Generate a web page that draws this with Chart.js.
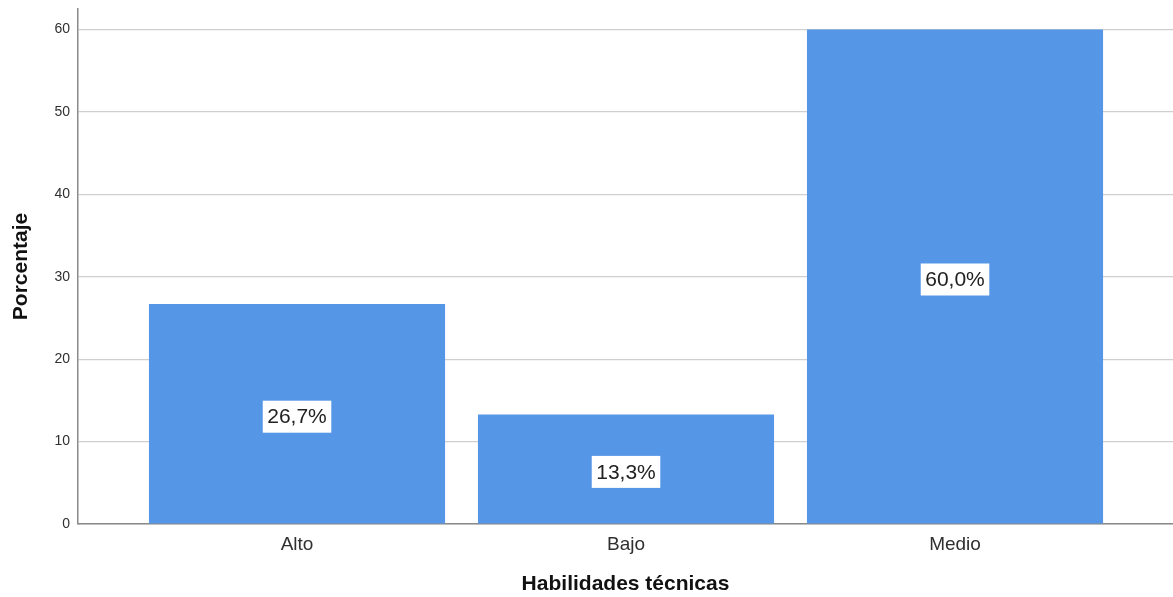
<!DOCTYPE html>
<html>
<head>
<meta charset="utf-8">
<script src="https://cdn.jsdelivr.net/npm/chart.js@4"></script>
<style>
  html, body { margin: 0; padding: 0; background: #fff; }
  #wrap { width: 1173px; height: 597px; }
</style>
</head>
<body>
<div id="wrap"><canvas id="habilidades-graph"></canvas></div>
<script>
const categories = ["Alto", "Bajo", "Medio"];
const percentValues = [26.7, 13.3, 60.0];
const percentLabels = ["26,7%", "13,3%", "60,0%"];
const yTicks = [0, 10, 20, 30, 40, 50, 60];

const FONT = "'Liberation Sans', Arial, sans-serif";
const ctx = document.getElementById("habilidades-graph").getContext("2d");

// white boxes with the percentage in the middle of each bar
const boxLabels = {
  id: "boxLabels",
  afterDatasetsDraw(chart) {
    const c = chart.ctx;
    const meta = chart.getDatasetMeta(0);
    c.save();
    c.font = "21px " + FONT;
    c.textAlign = "center";
    c.textBaseline = "middle";
    meta.data.forEach((bar, i) => {
      const text = percentLabels[i];
      const w = c.measureText(text).width + 9;
      const h = 32;
      const cx = bar.x;
      const cy = (bar.y + bar.base) / 2 + 3;
      c.fillStyle = "#ffffff";
      c.fillRect(cx - w / 2, cy - h / 2, w, h);
      c.fillStyle = "#222222";
      c.fillText(text, cx, cy + 1);
    });
    c.restore();
  },
};

const habilidadesChart = new Chart(ctx, {
  type: "bar",
  data: {
    datasets: [
      {
        label: "Porcentaje",
        data: categories.map((cat, i) => ({ x: i, y: percentValues[i] })),
        backgroundColor: "#5596e6",
        borderWidth: 0,
        barPercentage: 0.9,
        categoryPercentage: 1,
      },
    ],
  },
  options: {
    responsive: true,
    maintainAspectRatio: false,
    animation: false,
    layout: { padding: { top: 9, left: 0, right: 0, bottom: 0 } },
    plugins: {
      legend: { display: false },
      tooltip: { enabled: false },
    },
    scales: {
      x: {
        type: "linear",
        min: -0.6657,
        max: 2.6626,
        offset: false,
        grid: { display: false, drawTicks: false, offset: false },
        border: { display: true, color: "#8a8a8a", width: 1.5 },
        afterBuildTicks(scale) {
          scale.ticks = categories.map((c, i) => ({ value: i }));
        },
        afterFit(scale) {
          scale.height = 73;
          scale.paddingLeft = 0;
          scale.paddingRight = 0;
        },
        ticks: {
          padding: 9,
          color: "#303030",
          font: { family: FONT, size: 19 },
          autoSkip: false,
          maxRotation: 0,
          callback: (v) => categories[v],
        },
        title: {
          display: true,
          text: "Habilidades técnicas",
          color: "#111111",
          font: { family: FONT, size: 21, weight: "bold" },
          padding: { top: 0, bottom: 0 },
        },
      },
      y: {
        min: 0,
        max: 62.5,
        grid: { color: "#cfcfcf", lineWidth: 1.2, drawTicks: false },
        border: { display: true, color: "#8a8a8a", width: 1.5 },
        afterBuildTicks(scale) {
          scale.ticks = yTicks.map((v) => ({ value: v }));
        },
        afterFit(scale) {
          scale.width = 78;
          scale.paddingTop = 0;
          scale.paddingBottom = 0;
        },
        ticks: {
          padding: 8,
          color: "#303030",
          font: { family: FONT, size: 14 },
        },
        title: {
          display: true,
          text: "Porcentaje",
          color: "#111111",
          font: { family: FONT, size: 21, weight: "bold" },
          padding: { top: 9, bottom: 0 },
        },
      },
    },
  },
  plugins: [boxLabels],
});
</script>
</body>
</html>
